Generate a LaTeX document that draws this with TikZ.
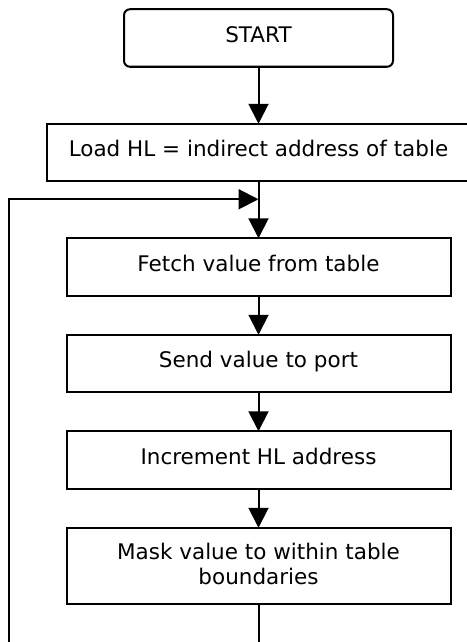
\documentclass[tikz,border=0pt]{standalone}
\usepackage{fontspec}
\setmainfont{DejaVu Sans}
\usetikzlibrary{positioning,arrows.meta}

\begin{document}
\begin{tikzpicture}[>={Triangle[length=20pt,width=20pt]},line width=2pt,
  font=\fontsize{21.5pt}{25pt}\selectfont,
  box/.style={draw,rectangle,outer sep=0pt,inner xsep=0pt,minimum height=57.5pt,
    text height=19pt,text depth=11pt},
  startbox/.style={box,rounded corners=6pt}]
\useasboundingbox (0pt,0pt) rectangle (466pt,-642pt);

\node[startbox,minimum width=269pt] (start) at (258.5pt,-38pt) {START};
\node[box,minimum width=424pt] (load) [below=57pt of start] {Load HL = indirect address of table};
\coordinate [below=18pt of load] (join);
\node[box,minimum width=384pt] (fetch) [below=57pt of load] {Fetch value from table};
\node[box,minimum width=384pt] (send) [below=39pt of fetch] {Send value to port};
\node[box,minimum width=384pt] (inc) [below=39pt of send] {Increment HL address};
\node[box,minimum width=384pt,minimum height=76pt,text height=43pt,text depth=5pt,align=center] (mask) [below=39pt of inc] {Mask value to within table\\ boundaries};
\coordinate [below=50pt of mask] (mbot);
\coordinate (lbot) at (9pt,-660pt);

\path[->]
(start) edge (load)
(load) edge (fetch)
(fetch) edge (send)
(send) edge (inc)
(inc) edge (mask);

\draw (mask) -- (mbot);
\draw[->] (lbot) |- (join);

\end{tikzpicture}
\end{document}
